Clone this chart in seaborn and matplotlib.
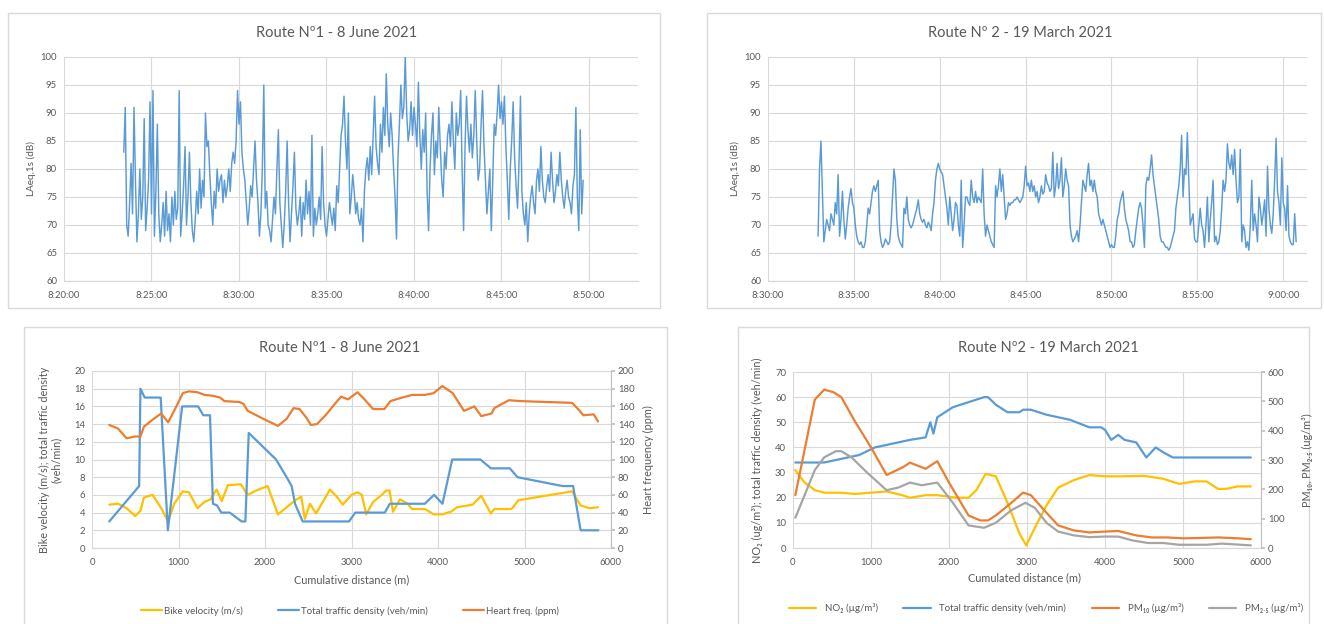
import numpy as np
import pandas as pd
import matplotlib
matplotlib.use("Agg")
import matplotlib.pyplot as plt
import seaborn as sns
from matplotlib.ticker import MultipleLocator, FuncFormatter
from matplotlib.lines import Line2D
from matplotlib.patches import Rectangle

# ---------------- DATA ----------------
# Top-left: Route 1 noise, LAeq,1s (dB), sampled every 5 s from start time
r1_start = "08:23:25"
r1_step_s = 5
r1_laeq = [
    83, 91, 70, 68, 74, 81, 72, 91, 78, 67,
    72, 80, 71, 75, 89, 69, 73, 78, 92, 72,
    94, 68, 76, 88, 72, 67, 70, 74, 68, 76,
    69, 72, 67, 75, 70, 76, 71, 73, 94, 68,
    72, 77, 84, 70, 75, 83, 74, 69, 67, 71,
    76, 72, 80, 73, 78, 75, 90, 84, 85, 79,
    74, 70, 76, 73, 80, 76, 78, 79, 74, 78,
    75, 77, 80, 76, 81, 83, 81, 85, 94, 88,
    92, 83, 80, 78, 74, 70, 73, 77, 75, 80,
    85, 78, 74, 68, 72, 80, 95, 73, 76, 70,
    69, 67, 71, 75, 72, 80, 87, 74, 70, 66,
    70, 76, 85, 74, 67, 72, 77, 83, 73, 70,
    72, 75, 68, 74, 71, 78, 72, 76, 70, 86,
    68, 73, 70, 72, 75, 71, 84, 74, 70, 68,
    71, 74, 72, 70, 73, 69, 77, 74, 80, 86,
    88, 93, 85, 80, 90, 72, 75, 79, 76, 72,
    74, 71, 70, 73, 67, 76, 80, 82, 78, 84,
    79, 86, 93, 84, 81, 79, 88, 83, 91, 86,
    97, 88, 84, 90, 86, 80, 75, 67.5, 82, 88,
    95, 89, 91, 100, 90, 85, 87, 92, 86, 91,
    88, 84, 95.5, 86, 80, 87, 83, 90, 76, 69,
    80, 86, 90, 79, 85, 82, 91, 84, 78, 75,
    83, 80, 86, 88, 84, 92, 85, 80, 90, 86,
    88, 94, 80, 69, 84, 93, 87, 83, 88, 82,
    86, 94, 85, 78, 80, 88, 94, 84, 78, 72,
    76, 80, 69, 78, 88, 86, 90, 95, 89, 92,
    88, 93, 84, 78, 71, 80, 85, 92, 82, 77,
    73, 81, 93, 76, 72, 70, 74, 67, 72, 75,
    77, 74, 72, 78, 80, 76, 84, 78, 75, 74,
    77, 79, 76, 83, 78, 74, 76, 79, 77, 83,
    78, 75, 73, 76, 78, 75, 74, 72, 77, 79,
    91, 75, 69, 87, 72, 78,
]

# Top-right: Route 2 noise, LAeq,1s (dB), sampled every 5 s from start time
r2_start = "08:32:55"
r2_step_s = 5
r2_laeq = [
    68, 80, 85, 76, 67, 69, 71, 70, 69, 72,
    71, 70, 74, 72, 79, 68, 71, 76, 71, 67.5,
    70, 73, 75, 76.5, 74, 73, 70, 68, 67, 66.5,
    67, 66, 66, 67, 70, 73, 72, 74, 76, 77,
    76, 77, 78, 69, 67, 66, 66.5, 67.5, 67, 66.5,
    67, 70, 75, 80, 78, 71, 68, 67, 66.5, 66,
    73, 72, 75, 71, 70, 69.5, 70, 71, 72, 73,
    74.5, 72, 71, 70.5, 71, 70, 69.5, 70.5, 70, 69,
    72, 74, 78, 80, 81, 80, 79.5, 79, 77, 75,
    73, 70, 75, 72, 69, 71, 74, 73.5, 70, 68,
    78, 66, 70, 75, 75, 74, 73.5, 78, 75, 74,
    76, 74, 75, 74.5, 74, 80, 72, 68, 70, 69,
    68, 67, 66.5, 66, 77, 75, 77, 80, 76, 79,
    75, 71, 72, 74, 73.5, 74, 74, 74.5, 74.5, 75,
    74.5, 74, 74.5, 75, 77, 80.5, 77, 77.5, 76, 78,
    76, 77, 75, 76, 74, 75, 77, 75.5, 76, 79,
    77.5, 77, 76, 76.5, 83, 75, 77, 81, 76.5, 78,
    82, 75, 77, 80, 78, 77, 70, 68, 67, 67.5,
    68, 69, 67, 70, 74, 78, 77, 76, 79, 81,
    77, 78, 76, 78, 76, 75, 72, 71, 70, 71,
    70, 69, 68, 67, 66, 66.5, 66, 66, 68, 71,
    72, 74, 75, 76, 73, 71, 70, 69, 67, 67,
    66, 66.5, 69, 71, 73, 74, 73, 70, 66, 77,
    78.5, 78, 80, 82.5, 79, 77, 75, 73, 71, 68,
    67, 67, 66.5, 66, 66, 65.5, 66, 67, 68, 69,
    73, 75, 77, 80, 86, 75, 80, 79, 86.5, 78,
    70, 71, 72, 67.5, 67, 67, 70, 73, 70, 69,
    66, 70, 75, 67, 71, 74, 78, 67, 68, 66.5,
    67, 69, 73, 78, 76, 78, 84.5, 81, 80, 82.5,
    79, 83.5, 78, 74, 75, 83.5, 67, 70, 69, 66,
    67, 65.5, 70, 78, 69, 72, 70, 67, 75, 73,
    70, 72, 74.5, 68, 80.5, 73, 70, 68.5, 72, 78,
    85.5, 76, 74, 70, 82, 74, 73, 69, 77, 68,
    67, 66.5, 66.5, 72, 67,
]

# Bottom-left: Route 1 vs cumulative distance (m)
r1_vel_dist = [200, 300, 400, 500, 560, 600, 700, 800, 880, 950, 1050, 1120, 1220, 1300, 1370,
               1440, 1500, 1570, 1720, 1800, 1900, 2030, 2150, 2250, 2350, 2420, 2460, 2520, 2590, 2680,
               2750, 2830, 2900, 3000, 3070, 3120, 3170, 3250, 3350, 3400, 3440, 3480, 3560, 3650, 3700,
               3850, 3950, 4050, 4150, 4220, 4400, 4500, 4610, 4650, 4850, 4930, 5550, 5650, 5750, 5850]
r1_velocity = [4.9, 5.0, 4.5, 3.6, 4.2, 5.7, 6.0, 4.5, 3.0, 5.0, 6.4, 6.3, 4.5, 5.2, 5.5,
               6.6, 5.3, 7.1, 7.2, 6.0, 6.5, 7.0, 3.8, 4.6, 5.4, 5.8, 3.3, 5.0, 3.9, 5.4,
               6.6, 5.8, 4.9, 6.0, 6.3, 6.0, 3.8, 5.2, 6.0, 6.5, 6.5, 4.1, 5.5, 5.0, 4.4,
               4.4, 3.8, 3.8, 4.1, 4.6, 4.9, 5.9, 3.9, 4.4, 4.4, 5.4, 6.4, 4.8, 4.5, 4.6]
r1_traffic_dist = [200, 545, 560, 609, 794, 877, 1042, 1227, 1286, 1364, 1398, 1446, 1495, 1592, 1729,
                   1773, 1812, 2128, 2250, 2308, 2347, 2435, 2971, 3044, 3385, 3443, 3847, 3954, 4052, 4164,
                   4490, 4612, 4831, 4919, 5440, 5562, 5649, 5854]
r1_traffic = [3, 7, 18, 17, 17, 2, 16, 16, 15, 15, 5, 4.8, 4, 4, 3,
              3, 13, 10, 8, 7, 5, 3, 3, 4, 4, 5, 5, 6, 5, 10,
              10, 9, 9, 8, 7, 7, 2, 2]
r1_heart_dist = [200, 300, 400, 500, 560, 600, 700, 800, 880, 950, 1050, 1120, 1220, 1300, 1400,
                 1480, 1530, 1700, 1750, 1800, 1900, 2000, 2150, 2250, 2330, 2400, 2480, 2530, 2600, 2700,
                 2800, 2880, 2960, 3070, 3150, 3250, 3380, 3450, 3550, 3700, 3850, 3950, 4050, 4170, 4300,
                 4420, 4500, 4620, 4650, 4820, 4950, 5550, 5620, 5680, 5800, 5850]
r1_heart = [139, 135, 124, 126, 126, 137, 145, 152, 142, 155, 175, 177, 176, 173, 172,
            170, 166, 165, 163, 155, 150, 145, 138, 146, 158, 157, 147, 139, 140, 150,
            162, 171, 168, 176, 168, 157, 157, 166, 169, 173, 173, 175, 183, 175, 155,
            160, 149, 152, 158, 167, 166, 164, 157, 150, 151, 143]

# Bottom-right: Route 2 vs cumulated distance (m)
r2_no2_dist = [30, 150, 280, 400, 600, 800, 1000, 1200, 1400, 1500, 1700, 1850, 2100, 2250, 2350,
               2470, 2600, 2750, 2900, 2990, 3100, 3250, 3400, 3600, 3800, 4000, 4200, 4500, 4750, 4950,
               5150, 5300, 5450, 5550, 5700, 5870]
r2_no2 = [31, 26, 23, 22, 22, 21.5, 22, 22.5, 21, 20, 21, 21, 20, 20, 23,
          29.5, 28.5, 18, 6, 1, 8, 17, 24, 27, 29, 28.5, 28.5, 28.7, 27.5, 25.5,
          26.5, 26.5, 23.5, 23.5, 24.5, 24.5]
r2_traffic_dist = [30, 400, 700, 850, 1050, 1200, 1500, 1700, 1760, 1800, 1850, 1950, 2050, 2250, 2450,
                   2500, 2600, 2750, 2900, 2950, 3050, 3250, 3400, 3550, 3800, 3950, 4000, 4080, 4170, 4250,
                   4400, 4530, 4650, 4750, 4870, 5870]
r2_traffic = [34, 34, 36, 37, 40, 41, 43, 44, 50, 45.5, 52, 54, 56, 58, 60,
              60, 57, 54, 54, 55, 55, 53, 52, 51, 48, 48, 47, 43, 45, 43,
              42, 36, 40, 38, 36, 36]
r2_pm10_dist = [30, 280, 400, 520, 620, 800, 1000, 1200, 1400, 1500, 1700, 1850, 2000, 2250, 2400,
                2500, 2600, 2800, 2950, 3050, 3250, 3400, 3600, 3800, 4000, 4170, 4400, 4600, 4800, 5000,
                5200, 5450, 5700, 5870]
r2_pm10 = [180, 506, 540, 531, 514, 429, 343, 249, 274, 291, 270, 296, 223, 111, 94,
           94, 111, 154, 189, 180, 120, 77, 60, 53, 56, 58, 43, 36, 36, 33,
           34, 36, 33, 30]
r2_pm25_dist = [30, 280, 400, 550, 620, 750, 950, 1200, 1350, 1500, 1650, 1850, 2050, 2250, 2450,
                2600, 2800, 2980, 3100, 3250, 3400, 3600, 3800, 4000, 4170, 4350, 4550, 4750, 4950, 5300,
                5500, 5870]
r2_pm25 = [103, 266, 309, 330, 330, 309, 257, 197, 206, 223, 214, 223, 154, 77, 69,
           86, 129, 154, 137, 86, 56, 43, 37, 39, 39, 26, 17, 17, 11, 11,
           15, 9]

titles = ["Route N\u00ba1 - 8 June 2021", "Route N\u00ba 2 - 19 March 2021",
          "Route N\u00ba1 - 8 June 2021", "Route N\u00ba2 - 19 March 2021"]

# ---------------- STYLE ----------------
sns.set_theme(style="white")
plt.rcParams['font.family'] = ['Lato', 'DejaVu Sans']
TXT = '#595959'
GRID = '#D9D9D9'
BLUE = '#5B9BD5'
ORANGE = '#ED7D31'
GRAY = '#A5A5A5'
YELLOW = '#FFC000'

W, H = 1324, 624
fig = plt.figure(figsize=(W / 100, H / 100), dpi=100)
fig.patch.set_facecolor('white')


def px_axes(x0, y0, x1, y1):
    return fig.add_axes([x0 / W, 1 - y1 / H, (x1 - x0) / W, (y1 - y0) / H])


def ftext(x, y, s, **kw):
    kw.setdefault('color', TXT)
    kw.setdefault('ha', 'center')
    kw.setdefault('va', 'center')
    return fig.text(x / W, 1 - y / H, s, **kw)


for (x0, y0, x1, y1) in [(8, 13, 660, 308), (707, 13, 1321, 308),
                         (24, 327, 667, 626), (738, 327, 1309, 626)]:
    fig.add_artist(Rectangle((x0 / W, 1 - y1 / H), (x1 - x0) / W, (y1 - y0) / H,
                             transform=fig.transFigure, fill=False,
                             edgecolor=GRID, lw=1.0))


def style_axes(ax):
    for s in ['top', 'right', 'left']:
        ax.spines[s].set_visible(False)
    ax.spines['bottom'].set_color(GRID)
    ax.spines['bottom'].set_linewidth(0.9)
    ax.grid(True, color=GRID, lw=0.8)
    ax.set_axisbelow(True)
    ax.tick_params(length=0, labelsize=6.8, labelcolor=TXT)
    ax.tick_params(axis='x', pad=7)
    ax.tick_params(axis='y', pad=5)
    ax.set_xlabel('')
    ax.set_ylabel('')


def hms(v, p):
    v = int(round(v))
    return f"{v // 3600}:{(v % 3600) // 60:02d}:{v % 60:02d}"


# ---------------- TOP CHARTS ----------------
def top_chart(box, start, step, vals, x0, x1):
    ax = px_axes(*box)
    s0 = pd.to_timedelta(start).total_seconds()
    df = pd.DataFrame({'t': s0 + step * np.arange(len(vals)), 'laeq': vals})
    sns.lineplot(data=df, x='t', y='laeq', ax=ax, color=BLUE, lw=1.05,
                 errorbar=None, sort=False)
    ax.set_xlim(x0, x1)
    ax.set_ylim(60, 100)
    ax.xaxis.set_major_locator(MultipleLocator(300))
    ax.xaxis.set_major_formatter(FuncFormatter(hms))
    ax.yaxis.set_major_locator(MultipleLocator(5))
    style_axes(ax)
    return ax


top_chart((64, 57, 638, 281), r1_start, r1_step_s, r1_laeq, 8 * 3600 + 20 * 60, 8 * 3600 + 20 * 60 + 1968)
top_chart((768, 57, 1307, 281), r2_start, r2_step_s, r2_laeq, 8 * 3600 + 30 * 60, 8 * 3600 + 30 * 60 + 1883)

ftext(337, 33, titles[0], fontsize=10.5)
ftext(1020, 33, titles[1], fontsize=10.5)
ftext(31, 169, "LAeq,1s (dB)", fontsize=7.2, rotation=90)
ftext(735, 169, "LAeq,1s (dB)", fontsize=7.2, rotation=90)


def style_right(ax2):
    for s in ['top', 'left', 'bottom']:
        ax2.spines[s].set_visible(False)
    ax2.spines['right'].set_color('#BFBFBF')
    ax2.spines['right'].set_linewidth(0.8)
    ax2.tick_params(axis='y', length=3, color='#BFBFBF', labelsize=6.8, labelcolor=TXT, pad=2)
    ax2.grid(False)
    ax2.set_xlabel('')
    ax2.set_ylabel('')


# ---------------- BOTTOM LEFT ----------------
ax = px_axes(92, 371, 611, 548)
sns.lineplot(x=r1_vel_dist, y=r1_velocity, ax=ax, color=YELLOW, lw=1.6, errorbar=None, sort=False)
sns.lineplot(x=r1_traffic_dist, y=r1_traffic, ax=ax, color=BLUE, lw=1.6, errorbar=None, sort=False)
ax.set_xlim(0, 6000)
ax.set_ylim(0, 20)
ax.xaxis.set_major_locator(MultipleLocator(1000))
ax.yaxis.set_major_locator(MultipleLocator(2))
style_axes(ax)
ax2 = ax.twinx()
sns.lineplot(x=r1_heart_dist, y=r1_heart, ax=ax2, color=ORANGE, lw=1.6, errorbar=None, sort=False)
ax2.set_ylim(0, 200)
ax2.yaxis.set_major_locator(MultipleLocator(20))
ax2.set_xlim(0, 6000)
style_right(ax2)

ftext(340, 348, titles[2], fontsize=10.5)
ftext(352, 580, "Cumulative distance (m)", fontsize=7.8)
ftext(50, 460, "Bike velocity (m/s); total traffic density\n(veh/min)", fontsize=7.8,
      rotation=90, linespacing=1.1)
ftext(648, 460, "Heart frequency (ppm)", fontsize=7.8, rotation=90)

h1 = [Line2D([], [], color=YELLOW, lw=1.6), Line2D([], [], color=BLUE, lw=1.6),
      Line2D([], [], color=ORANGE, lw=1.6)]
fig.legend(h1, ["Bike velocity (m/s)", "Total traffic density (veh/min)", "Heart freq. (ppm)"],
           loc='center', bbox_to_anchor=(350 / W, 1 - 611 / H), ncol=3, frameon=False,
           fontsize=7.0, labelcolor=TXT, handlelength=2.2, handletextpad=0.2, columnspacing=3.6)

# ---------------- BOTTOM RIGHT ----------------
ax = px_axes(793, 372, 1261, 548)
sns.lineplot(x=r2_no2_dist, y=r2_no2, ax=ax, color=YELLOW, lw=1.6, errorbar=None, sort=False)
sns.lineplot(x=r2_traffic_dist, y=r2_traffic, ax=ax, color=BLUE, lw=1.6, errorbar=None, sort=False)
ax.set_xlim(0, 6000)
ax.set_ylim(0, 70)
ax.xaxis.set_major_locator(MultipleLocator(1000))
ax.yaxis.set_major_locator(MultipleLocator(10))
style_axes(ax)
ax2 = ax.twinx()
sns.lineplot(x=r2_pm10_dist, y=r2_pm10, ax=ax2, color=ORANGE, lw=1.6, errorbar=None, sort=False)
sns.lineplot(x=r2_pm25_dist, y=r2_pm25, ax=ax2, color=GRAY, lw=1.6, errorbar=None, sort=False)
ax2.set_ylim(0, 600)
ax2.yaxis.set_major_locator(MultipleLocator(100))
ax2.set_xlim(0, 6000)
style_right(ax2)

ftext(1048, 348, titles[3], fontsize=10.5)
ftext(1025, 578, "Cumulated distance (m)", fontsize=7.8)
ftext(757, 460, "NO\u2082 (ug/m\u00b3); total traffic density (veh/min)", fontsize=7.8, rotation=90)
ftext(1307, 460, "PM\u2081\u2080, PM\u2082.\u2085 (ug/m\u00b3)", fontsize=7.8, rotation=90)

h2 = [Line2D([], [], color=YELLOW, lw=1.6), Line2D([], [], color=BLUE, lw=1.6),
      Line2D([], [], color=ORANGE, lw=1.6), Line2D([], [], color=GRAY, lw=1.6)]
fig.legend(h2, ["NO\u2082 (\u00b5g/m\u00b3)", "Total traffic density (veh/min)",
                "PM\u2081\u2080 (\u00b5g/m\u00b3)", "PM\u2082.\u2085 (\u00b5g/m\u00b3)"],
           loc='center', bbox_to_anchor=(1046 / W, 1 - 608 / H), ncol=4, frameon=False,
           fontsize=7.0, labelcolor=TXT, handlelength=2.8, handletextpad=0.9, columnspacing=2.6)

fig.savefig("out.png", dpi=100, facecolor='white')
